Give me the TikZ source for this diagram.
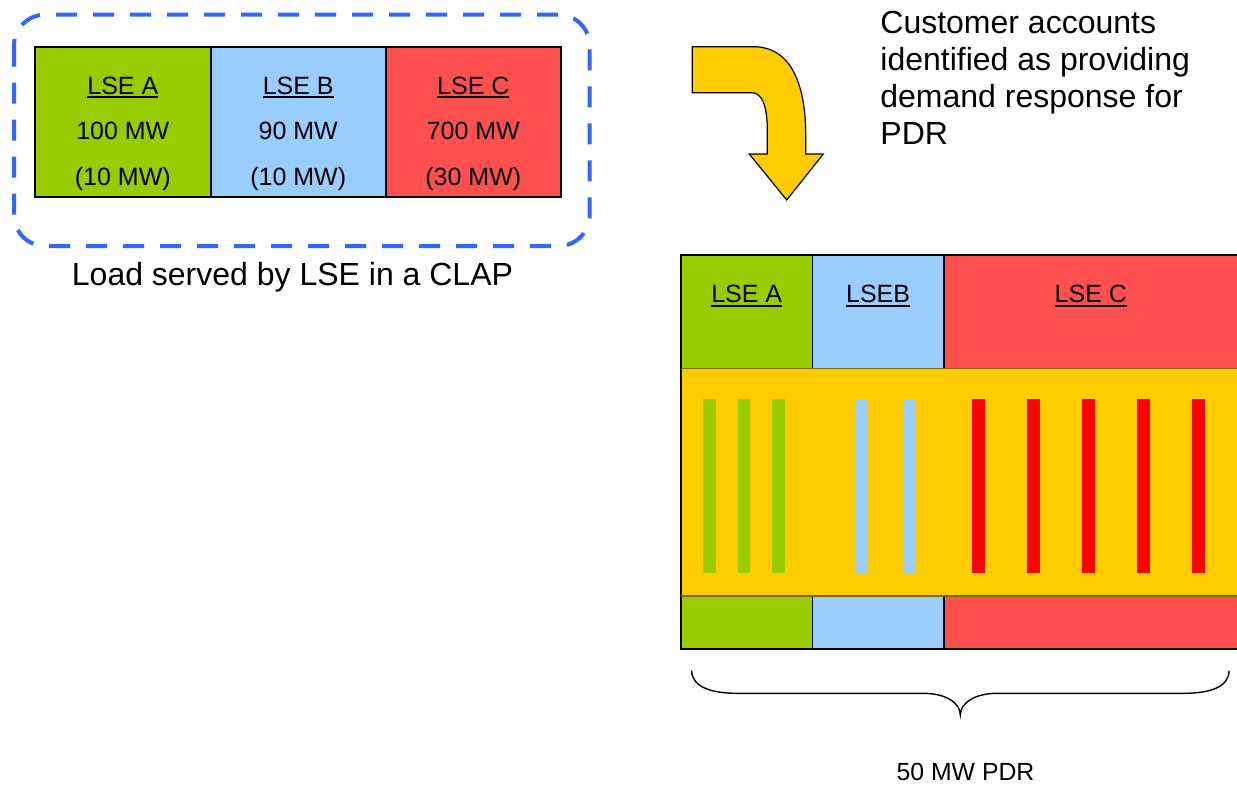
\documentclass[tikz,border=0pt]{standalone}
\usepackage{fontspec}
\setmainfont{Liberation Sans}
\usetikzlibrary{calc}
\definecolor{lsegreen}{HTML}{99CC00}
\definecolor{lseblue}{HTML}{99CCFF}
\definecolor{lsered}{HTML}{FF5050}
\definecolor{pdryellow}{HTML}{FFCC00}
\definecolor{barred}{HTML}{FF0000}
\definecolor{clapblue}{HTML}{3366FF}
\definecolor{bandedge}{HTML}{806600}
\newcommand\ulbox[1]{\setbox0\hbox{#1}\rlap{\rule[-2.2pt]{\wd0}{1pt}}\box0}
\begin{document}
\begin{tikzpicture}[x=0.5pt,y=-0.5pt,
  cellline/.style={draw=black,line width=0.8pt},
  lbl/.style={inner sep=0pt,anchor=base,font=\fontsize{12.5}{15}\selectfont},
  biglbl/.style={inner sep=0pt,font=\fontsize{16}{18.45}\selectfont},
  greenbar/.style={fill=lsegreen},
  bluebar/.style={fill=lseblue},
  redbar/.style={fill=barred}]
\useasboundingbox (0,0) rectangle (1237,784);
\fill[white] (0,0) rectangle (1237,784);

% ---------- left: load in CLAP ----------
\fill[lsegreen] (35,46.7) rectangle (210.7,197);
\fill[lseblue] (210.7,46.7) rectangle (385.7,197);
\fill[lsered] (385.7,46.7) rectangle (561,197);
\draw[cellline] (35,46.7) rectangle (561,197);
\draw[cellline] (210.7,46.7) -- (210.7,197);
\draw[cellline] (385.7,46.7) -- (385.7,197);

\node[lbl] (la1) at (122.8,94) {\ulbox{LSE A}};
\node[lbl] (la2) at (122.8,139.3) {100 MW};
\node[lbl] (la3) at (122.8,185) {(10 MW)};
\node[lbl] (lb1) at (298.2,94) {\ulbox{LSE B}};
\node[lbl] (lb2) at (298.2,139.3) {90 MW};
\node[lbl] (lb3) at (298.2,185) {(10 MW)};
\node[lbl] (lc1) at (473.3,94) {\ulbox{LSE C}};
\node[lbl] (lc2) at (473.3,139.3) {700 MW};
\node[lbl] (lc3) at (473.3,185) {(30 MW)};

\draw[clapblue,line width=2pt,rounded corners=15.5pt,dash pattern=on 10.5pt off 8pt]
  (14,14.7) rectangle (589.7,246);

\node[biglbl,anchor=base] (clap) at (292.5,285) {Load served by LSE in a CLAP};

% ---------- curved arrow ----------
\draw[fill=pdryellow,draw=black,line width=0.6pt,line join=miter]
  (692.3,46.7) -- (753.3,46.7)
  .. controls (794,46.7) and (805.7,90) .. (805.7,135) -- (805.7,154)
  -- (823.3,154) -- (786.7,200) -- (749.3,154) -- (767.3,154) -- (767.3,130)
  .. controls (767.3,106) and (762,92.7) .. (751.7,92.7)
  -- (692.3,92.7) -- cycle;

\node[biglbl,anchor=base west] (cust) at (880,33.3)
  {\begin{tabular}[t]{@{}l@{}}Customer accounts\\identified as providing\\demand response for\\PDR\end{tabular}};

% ---------- right: PDR composition ----------
\fill[lsegreen] (681,255) rectangle (812.3,368.7);
\fill[lseblue] (812.3,255) rectangle (943.7,368.7);
\fill[lsered] (943.7,255) rectangle (1240,368.7);
\fill[lsegreen] (681,596) rectangle (812.3,649);
\fill[lseblue] (812.3,596) rectangle (943.7,649);
\fill[lsered] (943.7,596) rectangle (1240,649);
\fill[pdryellow] (681,368.7) rectangle (1240,596);

\draw[cellline] (681,255) rectangle (1240,649);
\draw[cellline] (812.3,255) -- (812.3,368.7);
\draw[cellline] (943.7,255) -- (943.7,368.7);
\draw[cellline] (812.3,596) -- (812.3,649);
\draw[cellline] (943.7,596) -- (943.7,649);
\draw[bandedge,line width=0.6pt] (681,368.7) -- (1240,368.7);
\draw[bandedge,line width=0.6pt] (681,596) -- (1240,596);

\node[lbl] (ra) at (746.7,302.7) {\ulbox{LSE A}};
\node[lbl] (rb) at (878.1,302.7) {\ulbox{LSEB}};
\node[lbl] (rc) at (1090.8,302.7) {\ulbox{LSE C}};

\foreach \bx in {703.3,737.7,772.3}
  \fill[greenbar] (\bx,399.3) rectangle ++(12.4,174);
\foreach \bx in {854.7,903.3}
  \fill[bluebar] (\bx,399.3) rectangle ++(12.3,174);
\foreach \bx in {972,1027,1082,1137,1192}
  \fill[redbar] (\bx,399.3) rectangle ++(12.8,174);

% ---------- brace ----------
\coordinate (bl) at (691.7,670.7);
\coordinate (br) at (1229,670.7);
\coordinate (btip) at (960.3,715);
\draw[black,line width=0.7pt]
  (bl) .. controls (691.7,687) and (712,693.3) .. (736.7,693.3) -- (923.3,693.3)
  .. controls (946,693.3) and (960.3,703) .. (btip)
  .. controls (960.3,703) and (975,693.3) .. (997,693.3) -- (1183.7,693.3)
  .. controls (1210,693.3) and (1229,687) .. (br);

\node[lbl,font=\fontsize{12.4}{15}\selectfont] (pdr) at (965.5,780) {50 MW PDR};
\end{tikzpicture}
\end{document}
